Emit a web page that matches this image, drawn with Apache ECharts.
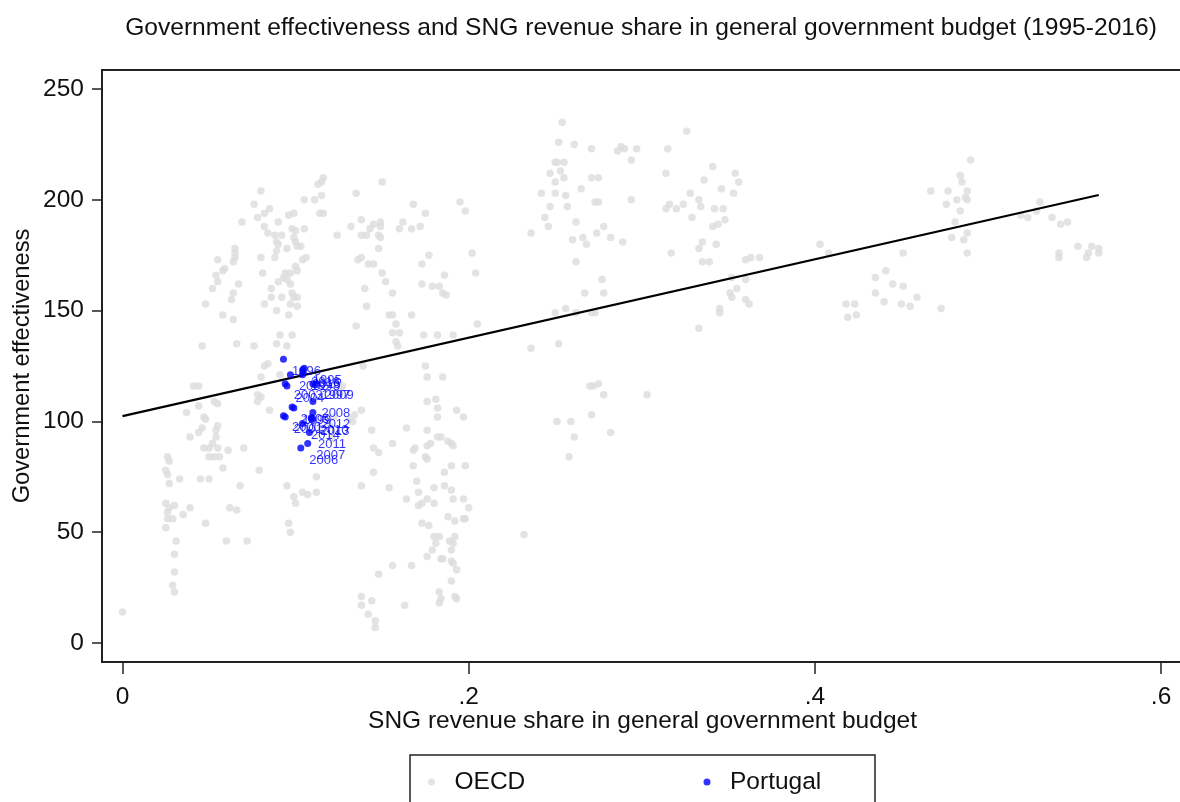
<!DOCTYPE html>
<html>
<head>
<meta charset="utf-8">
<title>Government effectiveness and SNG revenue share</title>
<script src="https://cdn.jsdelivr.net/npm/echarts@6/dist/echarts.min.js"></script>
<style>
  html, body { margin: 0; padding: 0; background: #ffffff; }
  #chart { width: 1180px; height: 802px; }
</style>
</head>
<body>
<div id="chart"></div>
<script>
// OECD country-years: [SNG revenue share, government effectiveness]
const oecdLowShare = [
  [0.000,14],
  [0.026,84],[0.027,82],[0.025,78],[0.026,76],[0.027,72],[0.025,63],[0.027,61],[0.026,59],[0.026,56],[0.029,56],
  [0.025,52],[0.031,46],[0.030,40],[0.030,32],[0.029,26],[0.030,23],[0.033,74],[0.039,61],[0.035,58],[0.030,62],
  [0.037,104],[0.044,107],[0.041,116],[0.044,116],[0.053,109],[0.055,108],[0.047,102],[0.048,101],[0.046,97],[0.044,95],
  [0.039,93],[0.055,98],[0.054,96],[0.054,93],[0.052,90],[0.047,88],[0.050,88],[0.055,88],[0.061,87],[0.070,88],
  [0.050,84],[0.053,84],[0.056,84],[0.058,79],[0.045,74],[0.050,74],[0.068,71],[0.048,54],[0.062,61],[0.066,60],
  [0.060,46],[0.072,46],
  [0.065,178],[0.065,176],[0.065,174],[0.064,172],[0.055,173],[0.059,169],[0.058,168],[0.054,166],[0.055,163],
  [0.067,162],[0.064,158],[0.063,155],[0.052,160],[0.048,153],[0.058,148],[0.064,146],[0.046,134],[0.066,135],[0.069,190]
];

const oecdNearPortugal = [
  [0.079,78],[0.085,105],[0.078,109],[0.080,111],[0.078,112],[0.080,120],[0.082,125],[0.084,126],[0.091,121],
  [0.095,71],[0.099,66],[0.100,63],[0.104,68],[0.107,67],[0.112,68],[0.112,75],[0.096,54],[0.097,50],
  [0.116,210],[0.115,208],[0.113,207],[0.080,204],[0.115,202],[0.111,200],[0.105,200],[0.076,198],[0.085,196],
  [0.082,194],[0.078,192],[0.099,194],[0.096,193],[0.114,194],[0.116,194],[0.090,190],[0.082,188],[0.084,185],
  [0.098,187],[0.100,186],[0.105,187],[0.088,184],[0.092,184],[0.089,181],[0.090,180],[0.124,184],[0.099,183],
  [0.100,181],[0.103,179],[0.101,179],[0.095,178],[0.089,177],[0.088,174],[0.080,174],[0.104,173],[0.106,174],
  [0.100,170],[0.101,168],[0.097,167],[0.094,167],[0.093,165],[0.095,164],[0.081,167],[0.090,163],[0.086,160],
  [0.086,156],[0.092,156],[0.097,162],[0.098,158],[0.099,156],[0.101,156],[0.101,152],[0.097,153],[0.082,153],
  [0.089,150],[0.096,148],[0.091,139],[0.098,139],[0.076,134],[0.089,135],[0.095,134],
  [0.126,115],[0.122,102],[0.120,98],[0.121,92]
];

const oecdMidShare = [
  [0.138,105],[0.134,103],[0.131,101],[0.133,100],
  [0.144,96],[0.164,97],[0.176,109],[0.181,110],[0.182,106],[0.182,102],[0.193,105],[0.197,102],[0.176,96],
  [0.156,90],[0.145,88],[0.148,86],[0.168,87],[0.169,88],[0.176,89],[0.178,90],[0.182,93],[0.184,93],[0.188,91],
  [0.191,89],[0.190,90],[0.175,84],[0.176,83],[0.168,80],[0.145,77],[0.186,77],[0.190,80],[0.198,80],[0.138,71],
  [0.154,70],[0.170,73],[0.171,68],[0.180,70],[0.186,71],[0.190,69],[0.164,65],[0.171,62],[0.173,63],[0.176,65],
  [0.180,63],[0.191,65],[0.197,65],[0.200,61],[0.188,57],[0.192,55],[0.197,56],[0.198,56],[0.173,54],[0.177,53],
  [0.180,48],[0.183,48],[0.181,45],[0.179,42],[0.192,48],[0.189,46],[0.191,45],[0.190,42],[0.176,39],[0.184,38],
  [0.185,38],[0.190,37],[0.191,36],[0.193,33],[0.190,28],[0.183,23],[0.184,20],[0.183,18],[0.192,21],[0.193,20],
  [0.156,35],[0.167,35],[0.148,31],[0.138,21],[0.144,19],[0.138,17],[0.142,13],[0.146,10],[0.146,7],[0.163,17],
  [0.150,208],[0.135,203],[0.168,198],[0.175,194],[0.195,199],[0.198,195],[0.132,188],[0.138,191],[0.138,184],
  [0.141,184],[0.143,187],[0.145,189],[0.149,190],[0.149,188],[0.148,184],[0.149,183],[0.162,190],[0.160,187],
  [0.167,187],[0.172,188],[0.148,178],[0.136,173],[0.138,174],[0.142,171],[0.145,171],[0.177,175],[0.173,171],
  [0.202,176],[0.150,167],[0.152,163],[0.186,166],[0.204,167],[0.140,160],[0.156,158],[0.173,162],[0.179,161],
  [0.183,161],[0.185,158],[0.187,157],[0.141,152],[0.167,148],[0.154,148],[0.156,148],[0.135,143],[0.158,144],
  [0.156,140],[0.160,140],[0.158,136],[0.159,134],[0.174,139],[0.182,139],[0.191,139],[0.205,144],[0.139,125],
  [0.175,125],[0.176,120],[0.185,120],[0.127,116]
];

const oecdUpperMidShare = [
  [0.254,235],[0.252,226],[0.261,225],[0.271,223],[0.286,222],[0.288,224],[0.290,223],[0.297,223],[0.294,218],
  [0.250,217],[0.251,217],[0.255,217],[0.247,212],[0.253,213],[0.255,210],[0.271,210],[0.275,210],[0.250,208],
  [0.242,203],[0.250,203],[0.256,202],[0.265,205],[0.247,197],[0.257,197],[0.273,199],[0.275,199],[0.294,200],
  [0.244,192],[0.246,188],[0.262,190],[0.278,188],[0.274,185],[0.236,185],[0.260,182],[0.266,183],[0.268,180],
  [0.282,183],[0.289,181],[0.262,172],
  [0.267,158],[0.278,158],[0.277,164],[0.250,149],[0.256,151],[0.262,149],[0.271,149],[0.273,149],[0.236,133],
  [0.252,135],[0.270,116],[0.272,116],[0.275,117],[0.278,112],[0.303,112],[0.251,100],[0.259,100],[0.271,103],
  [0.282,95],[0.261,93],[0.258,84],[0.232,49],
  [0.326,231],[0.315,223],[0.341,215],[0.314,212],[0.336,209],[0.354,212],[0.356,208],[0.346,205],[0.353,203],
  [0.328,203],[0.333,200],[0.314,196],[0.316,198],[0.320,196],[0.324,198],[0.329,192],[0.334,197],[0.342,196],
  [0.347,196],[0.341,188],[0.344,189],[0.348,191],[0.335,181],[0.333,178],[0.343,180],[0.317,176],[0.335,172],
  [0.339,172],[0.360,173],[0.363,174],[0.368,174],[0.352,165],[0.360,164],[0.351,158],[0.352,156],[0.355,160],
  [0.360,155],[0.362,153],[0.345,151],[0.345,149],[0.333,142]
];

const oecdHighShare = [
  [0.403,180],[0.408,176],[0.418,153],[0.423,153],[0.419,147],[0.424,148],
  [0.490,218],[0.484,211],[0.485,208],[0.467,204],[0.477,204],[0.488,204],[0.487,201],[0.488,200],[0.482,200],
  [0.476,198],[0.484,195],[0.481,190],[0.488,185],[0.479,183],[0.486,182],[0.488,176],[0.451,176],[0.530,199],
  [0.519,193],[0.523,192],[0.528,195],[0.537,192],[0.542,189],[0.546,190],[0.552,179],[0.541,176],[0.541,174],
  [0.558,176],[0.560,179],[0.564,178],[0.564,176],[0.557,174],[0.435,165],[0.441,168],[0.435,158],[0.445,162],
  [0.451,161],[0.440,154],[0.450,153],[0.455,152],[0.459,156],[0.473,151]
];

// Portugal, one point per year
const portugalYears = [1995,1996,1997,1998,1999,2000,2001,2002,2003,2004,2005,
                       2006,2007,2008,2009,2010,2011,2012,2013,2014,2015,2016];
const portugalShare = [0.105,0.093,0.110,0.104,0.099,0.093,0.094,0.097,0.094,0.095,0.098,
                       0.103,0.107,0.110,0.112,0.109,0.108,0.110,0.1095,0.104,0.1045,0.104];
const portugalEffectiveness = [124,128,117,121,106,102.5,102,121,117,116,106.5,
                               88,90,109,117,101.5,95,104,101,99,122,123];

// Linear fit over the OECD sample
const fitShare = [0, 0.564];
const fitEffectiveness = [102.4, 202.2];

const xTickValues = [0, 0.2, 0.4, 0.6];
const yTickValues = [0, 50, 100, 150, 200, 250];

const FONT = "'Liberation Sans', Arial, Helvetica, sans-serif";
const INK = '#111111';
const FRAME = '#222222';

const oecdPoints = [].concat(oecdLowShare, oecdNearPortugal, oecdMidShare, oecdUpperMidShare, oecdHighShare);
const portugalPoints = portugalYears.map((yr, i) => ({
  value: [portugalShare[i], portugalEffectiveness[i]],
  year: yr
}));
const fitLine = fitShare.map((x, i) => [x, fitEffectiveness[i]]);

const chart = echarts.init(document.getElementById('chart'), null, { renderer: 'canvas' });

chart.setOption({
  animation: false,
  backgroundColor: '#ffffff',
  textStyle: { fontFamily: FONT, color: INK },
  title: {
    text: 'Government effectiveness and SNG revenue share in general government budget (1995-2016)',
    left: 641,
    top: 16,
    padding: 0,
    textAlign: 'center',
    textStyle: { fontFamily: FONT, fontSize: 24.6, fontWeight: 'normal', color: INK }
  },
  grid: {
    left: 102,
    top: 70,
    width: 1095,
    height: 592,
    outerBoundsMode: 'none',
    containLabel: false,
    show: true,
    borderColor: FRAME,
    borderWidth: 2,
    backgroundColor: 'transparent'
  },
  xAxis: {
    type: 'value',
    min: -0.01184,
    max: 0.62077,
    name: 'SNG revenue share in general government budget',
    nameLocation: 'middle',
    nameGap: 47,
    nameMoveOverlap: false,
    nameTextStyle: { fontFamily: FONT, fontSize: 24.5, color: INK, padding: [0, 14, 0, 0] },
    axisLine: { show: false, onZero: false },
    splitLine: { show: false },
    axisTick: {
      show: true,
      inside: false,
      length: 12,
      customValues: xTickValues,
      lineStyle: { color: FRAME, width: 1.5 }
    },
    axisLabel: {
      customValues: xTickValues,
      margin: 23,
      fontFamily: FONT,
      fontSize: 24.5,
      color: INK,
      formatter: v => (v === 0 ? '0' : String(+v.toFixed(2)).replace(/^0/, ''))
    }
  },
  yAxis: {
    type: 'value',
    min: -8.6,
    max: 258.6,
    name: 'Government effectiveness',
    nameLocation: 'middle',
    nameGap: 68,
    nameMoveOverlap: false,
    nameRotate: 90,
    nameTextStyle: { fontFamily: FONT, fontSize: 23.7, color: INK },
    axisLine: { show: false, onZero: false },
    splitLine: { show: false },
    axisTick: {
      show: true,
      inside: false,
      length: 10,
      customValues: yTickValues,
      lineStyle: { color: FRAME, width: 1.5 }
    },
    axisLabel: {
      customValues: yTickValues,
      margin: 18,
      fontFamily: FONT,
      fontSize: 24.5,
      color: INK,
      formatter: v => String(v)
    }
  },
  legend: {
    left: 410,
    top: 755,
    orient: 'horizontal',
    padding: [13, 5, 22, 18],
    itemGap: 0,
    itemWidth: 36,
    itemHeight: 7,
    borderColor: FRAME,
    borderWidth: 1.5,
    selectedMode: false,
    textStyle: { fontFamily: FONT, fontSize: 24.5, color: INK, lineHeight: 28 },
    data: [
      { name: 'OECD', icon: 'circle', textStyle: { width: 249 } },
      { name: 'Portugal', icon: 'circle', textStyle: { width: 140 } }
    ]
  },
  series: [
    {
      name: 'OECD',
      type: 'scatter',
      data: oecdPoints,
      symbol: 'circle',
      symbolSize: 7.5,
      itemStyle: { color: '#dcdcdc' },
      z: 1,
      silent: true
    },
    {
      name: 'Fit',
      type: 'line',
      data: fitLine,
      symbol: 'none',
      lineStyle: { color: '#000000', width: 2.2 },
      z: 2,
      silent: true
    },
    {
      name: 'Portugal',
      type: 'scatter',
      data: portugalPoints,
      symbol: 'circle',
      symbolSize: 7,
      itemStyle: { color: '#0000ff' },
      z: 3,
      silent: true,
      label: {
        show: true,
        position: [12, 15.5],
        align: 'left',
        verticalAlign: 'middle',
        fontFamily: FONT,
        fontSize: 13,
        color: '#0000ff',
        formatter: p => String(p.data.year)
      },
      labelLayout: { hideOverlap: false }
    }
  ]
});
</script>
</body>
</html>
